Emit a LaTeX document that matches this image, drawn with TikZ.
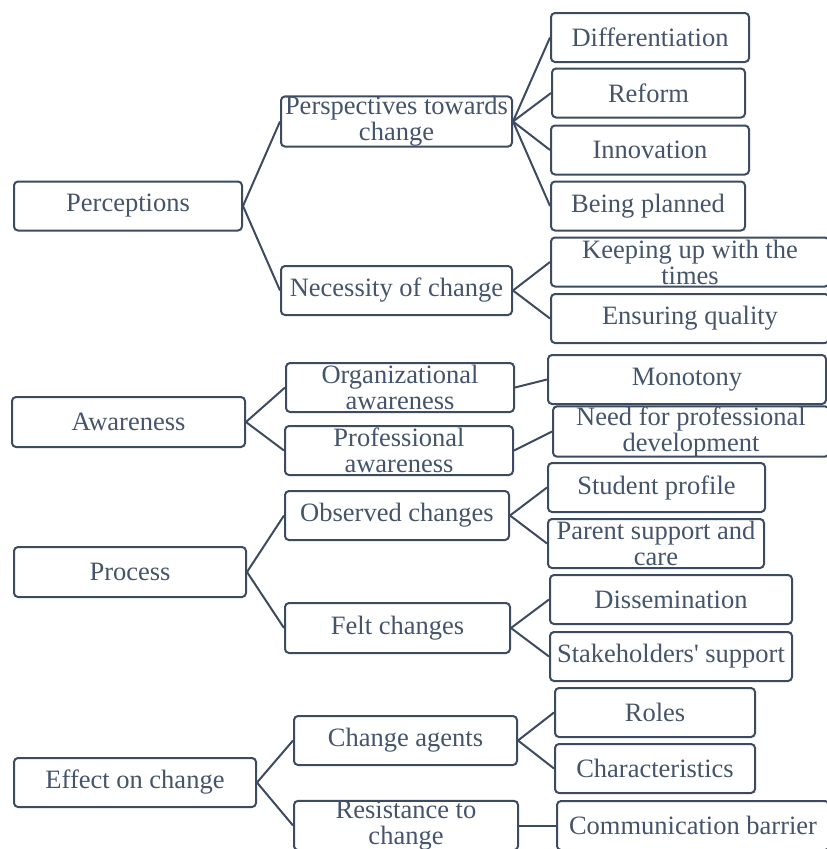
\documentclass[tikz,border=0pt]{standalone}
\usepackage{fontspec}
\setmainfont{Liberation Serif}
\usetikzlibrary{positioning}

\definecolor{slate}{RGB}{60,75,96}
\definecolor{slatetext}{RGB}{68,84,106}

\begin{document}
\begin{tikzpicture}[
    x=1pt, y=-1pt,
    box/.style={rectangle, draw=slate, line width=2pt, rounded corners=4pt, text=slatetext, align=center, inner sep=0pt,
        font=\fontsize{26.5}{26}\selectfont, minimum height=49pt},
    link/.style={draw=slate, line width=2pt}
]
\useasboundingbox (0,0) rectangle (827,849);

% Perceptions
\node[box, minimum width=228pt] (perc) at (128,206) {Perceptions};
\node[box, minimum width=231pt] (persp) at (396.5,121.5) {Perspectives towards\\change};
\node[box, minimum width=231pt] (need) at (396.5,290.5) {Necessity of change};
\node[box, minimum width=198pt] (diff) at (650,37.5) {Differentiation};
\node[box, minimum width=193pt] (reform) at (648.5,93) {Reform};
\node[box, minimum width=198pt] (innov) at (650,150) {Innovation};
\node[box, minimum width=194pt] (plan) at (648,206) {Being planned};
\node[box, minimum width=278pt] (times) at (690,262) {Keeping up with the\\times};
\node[box, minimum width=278pt] (quality) at (690,318.5) {Ensuring quality};

% Awareness
\node[box, minimum width=233pt, minimum height=50pt] (aware) at (128.5,422) {Awareness};
\node[box, minimum width=228pt] (orgaw) at (400,387.5) {Organizational\\awareness};
\node[box, minimum width=228pt] (profaw) at (399,450.5) {Professional\\awareness};
\node[box, minimum width=278pt] (mono) at (687,379.5) {Monotony};
\node[box, minimum width=276pt] (profdev) at (691,431.5) {Need for professional\\development};

% Process
\node[box, minimum width=232pt, minimum height=50pt] (proc) at (130,572) {Process};
\node[box, minimum width=224pt] (observed) at (397,515.5) {Observed changes};
\node[box, minimum width=225pt, minimum height=50pt] (felt) at (397.5,628) {Felt changes};
\node[box, minimum width=217pt] (student) at (656.5,487.5) {Student profile};
\node[box, minimum width=216pt] (parent) at (656,543.5) {Parent support and\\care};
\node[box, minimum width=242pt] (dissem) at (671,599.5) {Dissemination};
\node[box, minimum width=242pt] (stake) at (671,656.5) {Stakeholders\textquotesingle\ support};

% Effect on change
\node[box, minimum width=242pt] (effect) at (135,782.5) {Effect on change};
\node[box, minimum width=223pt] (agents) at (405.5,740.5) {Change agents};
\node[box, minimum width=224pt] (resist) at (406,825.5) {Resistance to\\change};
\node[box, minimum width=200pt] (roles) at (655,712.5) {Roles};
\node[box, minimum width=200pt] (charac) at (655,768.5) {Characteristics};
\node[box, minimum width=272pt] (comm) at (693,825.5) {Communication barrier};

% Links
\draw[link] (perc.east) -- (persp.west);
\draw[link] (perc.east) -- (need.west);
\draw[link] (persp.east) -- (diff.west);
\draw[link] (persp.east) -- (reform.west);
\draw[link] (persp.east) -- (innov.west);
\draw[link] (persp.east) -- (plan.west);
\draw[link] (need.east) -- (times.west);
\draw[link] (need.east) -- (quality.west);

\draw[link] (aware.east) -- (orgaw.west);
\draw[link] (aware.east) -- (profaw.west);
\draw[link] (orgaw.east) -- (mono.west);
\draw[link] (profaw.east) -- (profdev.west);

\draw[link] (proc.east) -- (observed.west);
\draw[link] (proc.east) -- (felt.west);
\draw[link] (observed.east) -- (student.west);
\draw[link] (observed.east) -- (parent.west);
\draw[link] (felt.east) -- (dissem.west);
\draw[link] (felt.east) -- (stake.west);

\draw[link] (effect.east) -- (agents.west);
\draw[link] (effect.east) -- (resist.west);
\draw[link] (agents.east) -- (roles.west);
\draw[link] (agents.east) -- (charac.west);
\draw[link] (resist.east) -- (comm.west);

\end{tikzpicture}
\end{document}
